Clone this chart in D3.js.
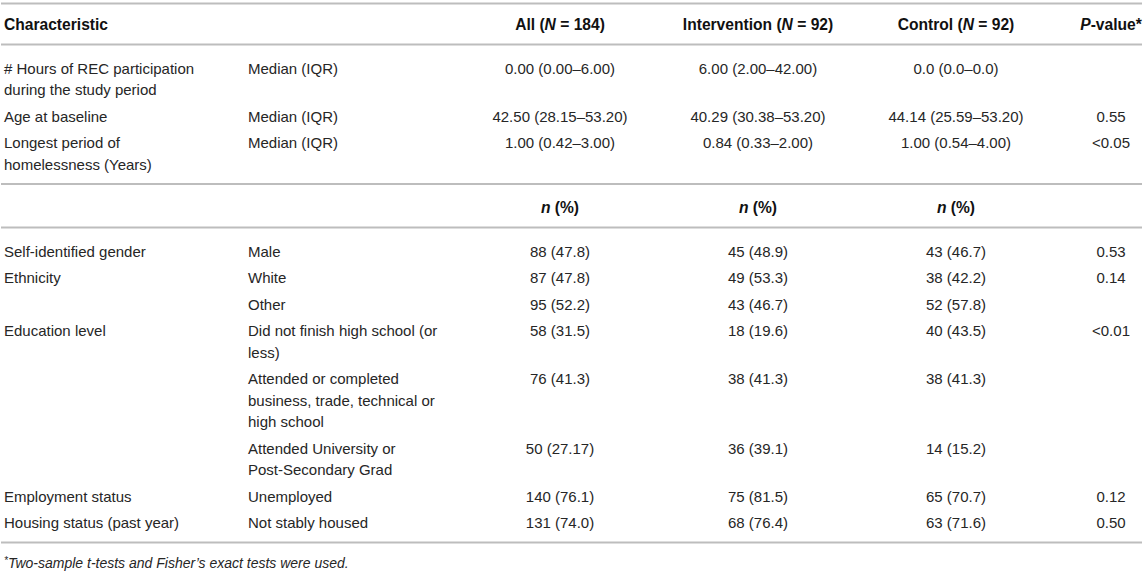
<!DOCTYPE html>
<html>
<head>
<meta charset="utf-8">
<script src="https://cdn.jsdelivr.net/npm/d3@7"></script>
<style>
  body { margin: 0; background: #fff; }
  text { font-family: "Liberation Sans", Arial, Helvetica, sans-serif; }
</style>
</head>
<body>
<div id="chart"></div>
<script>
// column headers (N, P and n are set in italics when drawn)
const headers = ["Characteristic", "", "All (N = 184)", "Intervention (N = 92)", "Control (N = 92)", "P-value*"];
const subHeaders = ["", "", "n (%)", "n (%)", "n (%)", ""];

// continuous characteristics
const contVars = ["# Hours of REC participation\nduring the study period", "Age at baseline", "Longest period of\nhomelessness (Years)"];
const contStat = ["Median (IQR)", "Median (IQR)", "Median (IQR)"];
const contAll = ["0.00 (0.00–6.00)", "42.50 (28.15–53.20)", "1.00 (0.42–3.00)"];
const contIntervention = ["6.00 (2.00–42.00)", "40.29 (30.38–53.20)", "0.84 (0.33–2.00)"];
const contControl = ["0.0 (0.0–0.0)", "44.14 (25.59–53.20)", "1.00 (0.54–4.00)"];
const contP = ["", "0.55", "<0.05"];

// categorical characteristics
const catVars = ["Self-identified gender", "Ethnicity", "", "Education level", "", "", "Employment status", "Housing status (past year)"];
const catLevels = ["Male", "White", "Other", "Did not finish high school (or\nless)",
  "Attended or completed\nbusiness, trade, technical or\nhigh school", "Attended University or\nPost-Secondary Grad",
  "Unemployed", "Not stably housed"];
const allN = [88, 87, 95, 58, 76, 50, 140, 131];
const allPct = ["47.8", "47.8", "52.2", "31.5", "41.3", "27.17", "76.1", "74.0"];
const interventionN = [45, 49, 43, 18, 38, 36, 75, 68];
const interventionPct = ["48.9", "53.3", "46.7", "19.6", "41.3", "39.1", "81.5", "76.4"];
const controlN = [43, 38, 52, 40, 38, 14, 65, 63];
const controlPct = ["46.7", "42.2", "57.8", "43.5", "41.3", "15.2", "70.7", "71.6"];
const catP = ["0.53", "0.14", "", "<0.01", "", "", "0.12", "0.50"];

const footnote = "Two-sample t-tests and Fisher’s exact tests were used.";

const width = 1145, height = 571;
const lineH = 21.5, rowGap = 5;
const afterRule = 23, beforeRule = 20.5;

const colIdx = d3.range(headers.length);
const x = d3.scaleOrdinal().domain(colIdx).range([4, 248, 560, 758, 956, 1111]);
const anchor = d3.scaleOrdinal().domain(colIdx).range(["start", "start", "middle", "middle", "middle", "middle"]);

const svg = d3.select("#chart").append("svg")
  .attr("width", width)
  .attr("height", height);

const contRows = contVars.map((v, i) => [v, contStat[i], contAll[i], contIntervention[i], contControl[i], contP[i]]);
const catRows = catVars.map((v, i) => [v, catLevels[i],
  allN[i] + " (" + allPct[i] + ")",
  interventionN[i] + " (" + interventionPct[i] + ")",
  controlN[i] + " (" + controlPct[i] + ")",
  catP[i]]);

const sections = [
  { rows: [headers], bold: true },
  { rows: contRows, bold: false },
  { rows: [subHeaders], bold: true },
  { rows: catRows, bold: false }
];

// work out where each row and rule goes
const rules = [3.5];
let y = 24;
const placed = [];
sections.forEach((s, si) => {
  if (si > 0) y = rules[rules.length - 1] + afterRule;
  s.rows.forEach((r, ri) => {
    const n = d3.max(r, c => c.split("\n").length);
    placed.push({ cells: r, y: y, bold: s.bold });
    const lastLine = y + (n - 1) * lineH;
    y += n * lineH + rowGap;
    if (ri === s.rows.length - 1) rules.push(lastLine + beforeRule);
  });
});

svg.selectAll("line.rule")
  .data(rules)
  .enter()
  .append("line")
  .attr("class", "rule")
  .attr("x1", 1)
  .attr("x2", 1142)
  .attr("y1", d => d)
  .attr("y2", d => d)
  .attr("stroke", "#bdbdbd")
  .attr("stroke-width", 2);

const rowG = svg.selectAll("g.row")
  .data(placed)
  .enter()
  .append("g")
  .attr("class", "row")
  .attr("transform", d => "translate(0," + d.y + ")");

rowG.each(function(row) {
  d3.select(this).selectAll("text")
    .data(row.cells.map((c, i) => ({ text: c, col: i })))
    .enter()
    .append("text")
    .attr("x", d => x(d.col))
    .attr("text-anchor", d => anchor(d.col))
    .attr("dominant-baseline", "central")
    .attr("font-size", row.bold ? 15.6 : 15)
    .attr("font-weight", row.bold ? "bold" : "normal")
    .attr("fill", row.bold ? "#111" : "#262626")
    .each(function(d) {
      const t = d3.select(this);
      d.text.split("\n").forEach((line, li) => {
        if (row.bold) {
          // italic single letters N, P, n
          const parts = line.split(/\b([NPn])\b/);
          parts.forEach((p, pi) => {
            if (!p) return;
            t.append("tspan")
              .attr("font-style", pi % 2 === 1 ? "italic" : "normal")
              .text(p);
          });
        } else {
          t.append("tspan")
            .attr("x", x(d.col))
            .attr("dy", li === 0 ? 0 : lineH)
            .text(line);
        }
      });
    });
});

const foot = svg.append("text")
  .attr("x", 4)
  .attr("y", rules[rules.length - 1] + 20)
  .attr("dominant-baseline", "central")
  .attr("font-size", 14)
  .attr("font-style", "italic")
  .attr("fill", "#262626");
foot.append("tspan").attr("font-size", 10).attr("dy", -3).text("*");
foot.append("tspan").attr("dy", 3).text(footnote);
</script>
</body>
</html>
